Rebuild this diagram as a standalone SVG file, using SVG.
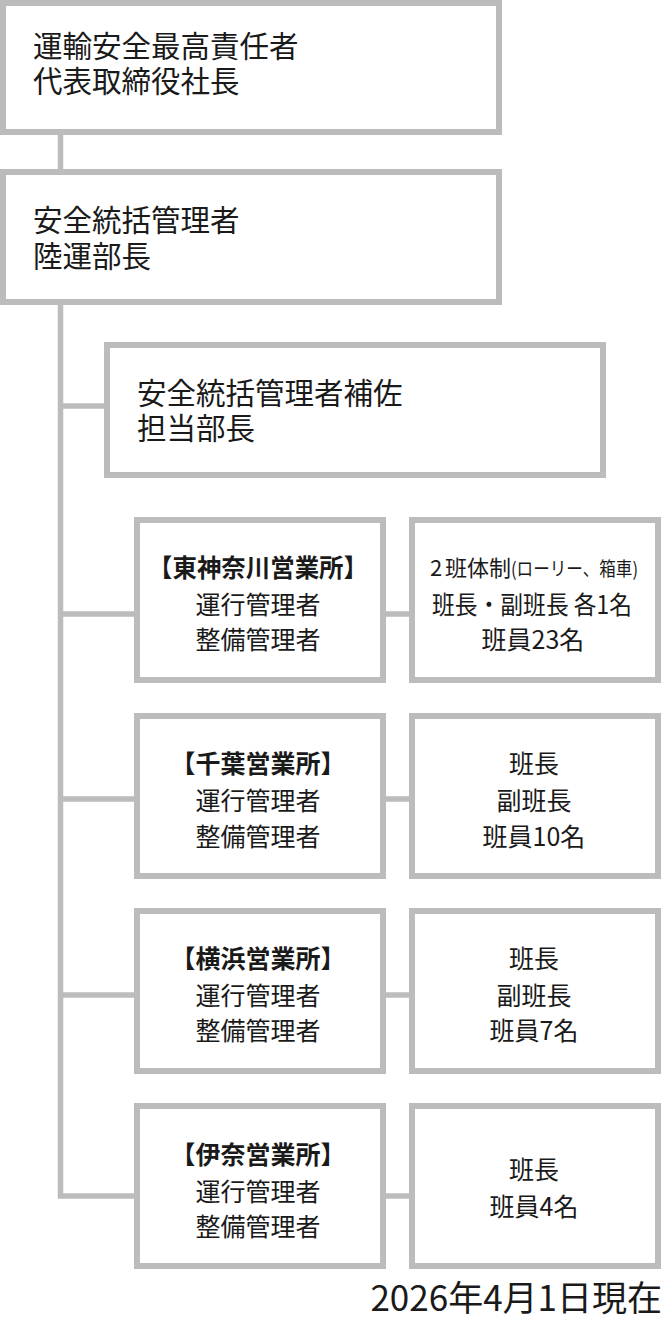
<svg xmlns="http://www.w3.org/2000/svg" width="663" height="1319" viewBox="0 0 663 1319">
<style>
.box{fill:#ffffff;stroke:#bcbcbc;stroke-width:6}
.con{fill:none;stroke:#bcbcbc;stroke-width:5.5;stroke-linejoin:miter;stroke-linecap:butt}
text{font-family:"Noto Sans CJK JP","Noto Sans",sans-serif;fill:#1a1a1a}
.lg{font-size:29.5px}
.sm{font-size:25px;text-anchor:middle}
.b{font-weight:700}
</style>
<rect width="663" height="1319" fill="#ffffff"/>
<g id="connectors">
<path class="con" d="M60.5 133V171"/>
<path class="con" d="M60.5 303V1196H136"/>
<path class="con" d="M58 406H106"/>
<path class="con" d="M58 614H136M384 614H411"/>
<path class="con" d="M58 799H136M384 799H411"/>
<path class="con" d="M58 995H136M384 995H411"/>
<path class="con" d="M384 1196H411"/>
</g>
<g id="n1">
<rect class="box" x="3" y="3" width="496" height="129"/>
<text class="lg" x="33" y="57">運輸安全最高責任者</text>
<text class="lg" x="33" y="92">代表取締役社長</text>
</g>
<g id="n2">
<rect class="box" x="3" y="172" width="496" height="130"/>
<text class="lg" x="33" y="231">安全統括管理者</text>
<text class="lg" x="33" y="267">陸運部長</text>
</g>
<g id="n3">
<rect class="box" x="107" y="345" width="496" height="130"/>
<text class="lg" x="137" y="404">安全統括管理者補佐</text>
<text class="lg" x="137" y="439">担当部長</text>
</g>
<g id="higashikanagawa">
<rect class="box" x="137" y="520" width="246" height="160"/>
<text class="sm b" x="258" y="577" textLength="220" lengthAdjust="spacingAndGlyphs">【東神奈川営業所】</text>
<text class="sm" x="258" y="614">運行管理者</text>
<text class="sm" x="258" y="649">整備管理者</text>
</g>
<g id="higashikanagawa-staff">
<rect class="box" x="412" y="520" width="246" height="160"/>
<text x="430" y="576" style="font-size:22px">2<tspan x="445">班体制</tspan><tspan x="511" style="font-size:19px" textLength="127" lengthAdjust="spacingAndGlyphs">(ローリー、箱車)</tspan></text>
<text class="sm" x="532" y="614" textLength="200" lengthAdjust="spacingAndGlyphs">班長・副班長 各1名</text>
<text class="sm" x="533" y="649">班員23名</text>
</g>
<g id="chiba">
<rect class="box" x="137" y="716" width="246" height="160"/>
<text class="sm b" x="258" y="773">【千葉営業所】</text>
<text class="sm" x="258" y="810">運行管理者</text>
<text class="sm" x="258" y="846">整備管理者</text>
</g>
<g id="chiba-staff">
<rect class="box" x="412" y="716" width="246" height="160"/>
<text class="sm" x="534" y="773">班長</text>
<text class="sm" x="534" y="810">副班長</text>
<text class="sm" x="534" y="846">班員10名</text>
</g>
<g id="yokohama">
<rect class="box" x="137" y="911" width="246" height="160"/>
<text class="sm b" x="258" y="968">【横浜営業所】</text>
<text class="sm" x="258" y="1005">運行管理者</text>
<text class="sm" x="258" y="1040">整備管理者</text>
</g>
<g id="yokohama-staff">
<rect class="box" x="412" y="911" width="246" height="160"/>
<text class="sm" x="534" y="968">班長</text>
<text class="sm" x="534" y="1005">副班長</text>
<text class="sm" x="534" y="1040">班員7名</text>
</g>
<g id="ina">
<rect class="box" x="137" y="1106" width="246" height="160"/>
<text class="sm b" x="258" y="1164">【伊奈営業所】</text>
<text class="sm" x="258" y="1201">運行管理者</text>
<text class="sm" x="258" y="1236">整備管理者</text>
</g>
<g id="ina-staff">
<rect class="box" x="412" y="1106" width="246" height="160"/>
<text class="sm" x="534" y="1179">班長</text>
<text class="sm" x="534" y="1216">班員4名</text>
</g>
<g id="date">
<text x="662" y="1311" style="font-size:35px;text-anchor:end">2026年4月1日現在</text>
</g>
</svg>
